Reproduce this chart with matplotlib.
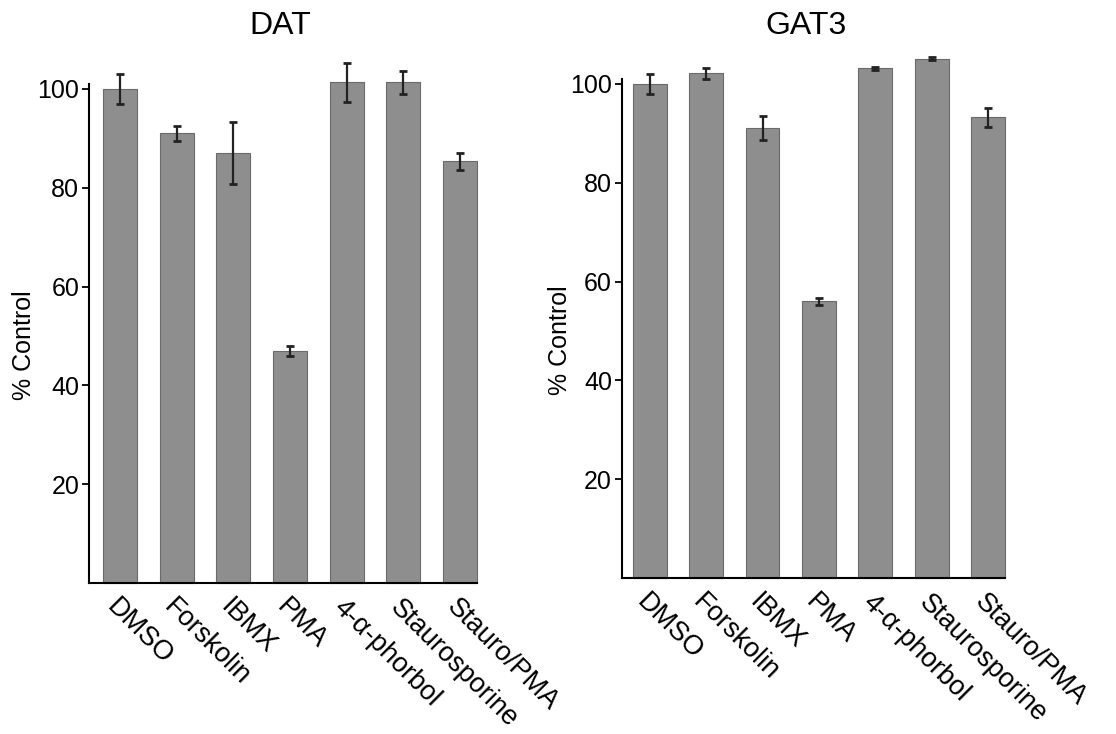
import matplotlib
matplotlib.use("Agg")
import matplotlib.pyplot as plt

plt.rcParams['font.family'] = ['Liberation Sans', 'DejaVu Sans']

# Treatments and % control values
treatments = ["DMSO", "Forskolin", "IBMX", "PMA", "4-\u03b1-phorbol", "Staurosporine", "Stauro/PMA"]
dat_values = [100, 91, 87, 47, 101.3, 101.3, 85.3]
dat_errors = [3, 1.5, 6.3, 1, 4, 2.4, 1.7]
gat3_values = [100, 102.1, 91, 56, 103.2, 105.1, 93.2]
gat3_errors = [2, 1.1, 2.4, 0.7, 0.3, 0.3, 2]
yticks = [20, 40, 60, 80, 100]

fig = plt.figure(figsize=(11.16, 7.34), dpi=100)
ax1 = fig.add_axes([0.0797, 0.2057, 0.3477, 0.68])
ax2 = fig.add_axes([0.557, 0.2125, 0.3435, 0.68])

panels = [(ax1, "DAT", dat_values, dat_errors, -0.55, 0.2509, 0.0215, 0.530),
          (ax2, "GAT3", gat3_values, gat3_errors, -0.5, 0.7222, 0.5020, 0.537)]

for ax, title, vals, errs, xleft, tx, lx, ly in panels:
    x = range(len(treatments))
    ax.bar(x, vals, width=0.6, color="#8e8e8e", edgecolor="#6a6a6a",
           linewidth=0.8, clip_on=False, zorder=2)
    ax.errorbar(x, vals, yerr=errs, fmt="none", ecolor="#222222",
                elinewidth=1.6, capsize=3, capthick=2, clip_on=False, zorder=3)
    ax.set_xlim(xleft, 6.3)
    ax.set_ylim(0, 101)
    ax.set_yticks(yticks)
    ax.tick_params(axis="y", labelsize=18, length=5, width=1.3, pad=2, direction="out")
    ax.set_xticks(list(x))
    ax.set_xticklabels(treatments, rotation=-45, ha="left", va="top",
                       rotation_mode="anchor", fontsize=19.5)
    ax.tick_params(axis="x", length=0, pad=8)
    ax.spines["top"].set_visible(False)
    ax.spines["right"].set_visible(False)
    ax.spines["left"].set_linewidth(1.5)
    ax.spines["bottom"].set_linewidth(1.5)
    fig.text(lx, ly, "% Control", rotation=90, fontsize=18, ha="center", va="center")
    fig.text(tx, 0.9646, title, fontsize=23, ha="center", va="center")

fig.savefig("out.png", dpi=100)
